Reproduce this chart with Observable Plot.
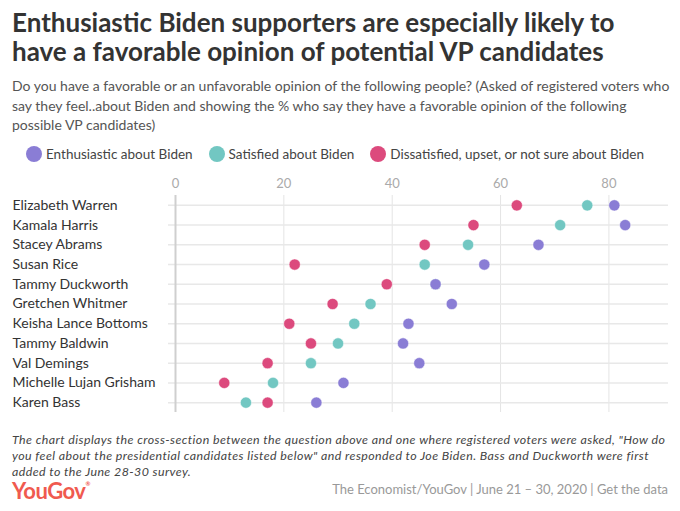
<!DOCTYPE html>
<html>
<head>
<meta charset="utf-8">
<script src="https://cdn.jsdelivr.net/npm/d3@7"></script>
<script src="https://cdn.jsdelivr.net/npm/@observablehq/plot@0.6"></script>
<style>
  body { margin: 0; background: #fff; font-family: Lato, "Open Sans", sans-serif; }
  #wrap { width: 680px; height: 511px; position: relative; overflow: hidden; }
  .title { position: absolute; left: 12px; top: 8px; width: 668px; font-size: 26px; font-weight: 700; line-height: 29px; color: #333; white-space: nowrap; }
  .sub { position: absolute; left: 12px; top: 76px; width: 660px; font-size: 14px; line-height: 19.7px; color: #555; }
  .legend { position: absolute; left: 12px; top: 146px; font-size: 13.5px; color: #444; display: flex; align-items: center; white-space: nowrap; }
  .legend span.sw { display: inline-block; width: 16px; height: 16px; border-radius: 50%; margin: 0 4px 0 16px; }
  #chart { position: absolute; left: 0; top: 169px; }
  .note { position: absolute; left: 12px; top: 432px; width: 670px; font-size: 12.4px; font-style: italic; line-height: 15.8px; color: #444; letter-spacing: 0.42px; white-space: nowrap; }
  .logo { position: absolute; left: 12px; top: 477px; font-size: 22px; font-weight: 700; color: #f05a4f; letter-spacing: -0.5px; }
  .logo sup { font-size: 6px; vertical-align: top; position: relative; top: 3px; }
  .src { position: absolute; right: 12px; top: 481px; font-size: 13px; color: #999; }
</style>
</head>
<body>
<div id="wrap">
  <div class="title">Enthusiastic Biden supporters are especially likely to<br>have a favorable opinion of potential VP candidates</div>
  <div class="sub">Do you have a favorable or an unfavorable opinion of the following people? (Asked of registered voters who say they feel..about Biden and showing the % who say they have a favorable opinion of the following possible VP candidates)</div>
  <div class="legend" id="legend"></div>
  <div id="chart"></div>
  <div class="note">The chart displays the cross-section between the question above and one where registered voters were asked, "How do<br>you feel about the presidential candidates listed below" and responded to Joe Biden. Bass and Duckworth were first<br>added to the June 28-30 survey.</div>
  <div class="logo">YouGov<sup>®</sup></div>
  <div class="src">The Economist/YouGov | June 21 – 30, 2020 | Get the data</div>
</div>
<script>
const candidates = ["Elizabeth Warren","Kamala Harris","Stacey Abrams","Susan Rice","Tammy Duckworth","Gretchen Whitmer","Keisha Lance Bottoms","Tammy Baldwin","Val Demings","Michelle Lujan Grisham","Karen Bass"];
const enthusiastic = [81,83,67,57,48,51,43,42,45,31,26];
const satisfied    = [76,71,54,46,48,36,33,30,25,18,13];
const dissatisfied = [63,55,46,22,39,29,21,25,17,9,17];
const seriesNames = ["Enthusiastic about Biden","Satisfied about Biden","Dissatisfied, upset, or not sure about Biden"];
const seriesColors = ["#8a7dd5","#72c7c2","#dc4a7d"];
const xTicks = [0,20,40,60,80];

const rows = [];
const drawOrder = [[1, satisfied],[2, dissatisfied],[0, enthusiastic]];
for (const [si, vals] of drawOrder) {
  candidates.forEach((c, i) => rows.push({name: c, value: vals[i], series: seriesNames[si]}));
}

const legend = document.getElementById("legend");
seriesNames.forEach((s, i) => {
  const sw = document.createElement("span");
  sw.className = "sw"; sw.style.background = seriesColors[i];
  if (i === 0) sw.style.marginLeft = "14px";
  legend.appendChild(sw);
  legend.appendChild(document.createTextNode(s));
});

const chart = Plot.plot({
  width: 680,
  height: 248,
  marginLeft: 168,
  marginRight: 12,
  marginTop: 26,
  marginBottom: 5,
  style: {fontFamily: "Lato, 'Open Sans', sans-serif", fontSize: "13px", color: "#333"},
  x: {domain: [0, 91], insetLeft: 7},
  y: {domain: candidates, type: "point", padding: 0.5, round: false},
  color: {domain: seriesNames, range: seriesColors},
  marks: [
    Plot.gridX(xTicks, {stroke: "#e4e4e4", strokeOpacity: 1, strokeWidth: 1}),
    Plot.gridY({stroke: "#e8e8e8", strokeOpacity: 1, strokeWidth: 1.5}),
    Plot.ruleX([0], {stroke: "#cfcfcf", strokeWidth: 2}),
    Plot.axisX(xTicks, {anchor: "top", tickSize: 0, tickPadding: 8, label: null, fill: "#aaa", fontSize: 13}),
    Plot.axisY({tickSize: 0, tickPadding: 0, textAnchor: "start", dx: -156, label: null, fill: "#333", fontSize: 14}),
    Plot.dot(rows, {x: "value", y: "name", fill: "series", r: 5.6, stroke: "white", strokeWidth: 0.5})
  ]
});
document.getElementById("chart").appendChild(chart);
</script>
</body>
</html>
